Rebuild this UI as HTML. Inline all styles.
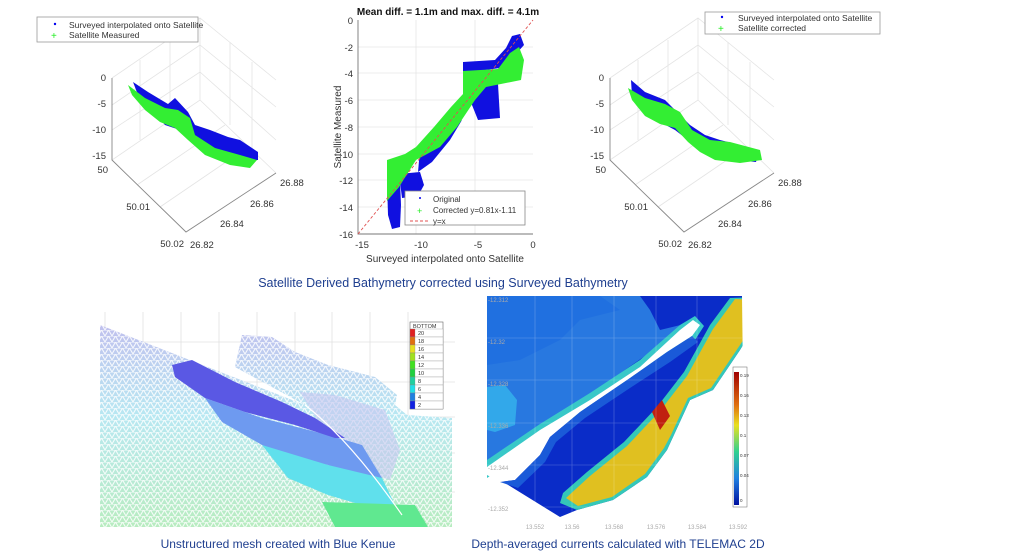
<!DOCTYPE html>
<html><head><meta charset="utf-8">
<style>
body{margin:0;background:#fff;width:1024px;height:554px;overflow:hidden;font-family:"Liberation Sans",sans-serif;}
svg{position:absolute;left:0;top:0}
</style></head><body>
<svg width="1024" height="554" viewBox="0 0 1024 554" font-family="Liberation Sans, sans-serif">
<defs>
<g id="box3d">
  <g stroke="#e4e4e4" stroke-width="0.8" fill="none">
    <path d="M112,78 L200,18 L276,80 M200,18 L200,100 M112,160 L200,100 L276,173 M140,60 L140,140 M170,40 L170,120 M230,42 L230,125 M252,62 L252,150 M112,105 L200,45 L276,107 M112,130 L200,72 L276,140 M137,185 L225,125 M160,207 L248,147"/>
  </g>
  <g stroke="#888" stroke-width="0.9" fill="none">
    <path d="M112,78 L112,160 L186,232 L276,173"/>
  </g>
  <g font-size="9.5" fill="#333">
    <text x="106" y="81" text-anchor="end">0</text>
    <text x="106" y="107" text-anchor="end">-5</text>
    <text x="106" y="133" text-anchor="end">-10</text>
    <text x="106" y="159" text-anchor="end">-15</text>
    <text x="108" y="173" text-anchor="end">50</text>
    <text x="150" y="210" text-anchor="end">50.01</text>
    <text x="184" y="247" text-anchor="end">50.02</text>
    <text x="190" y="248">26.82</text>
    <text x="220" y="227">26.84</text>
    <text x="250" y="207">26.86</text>
    <text x="280" y="186">26.88</text>
  </g>
</g>
<linearGradient id="mg" x1="0" y1="0" x2="0" y2="1">
<stop offset="0" stop-color="#c0c0ee"/><stop offset="0.45" stop-color="#b8e8f2"/><stop offset="1" stop-color="#b8ecc0"/></linearGradient>
<pattern id="tri" width="7" height="6" patternUnits="userSpaceOnUse"><path d="M0,6 L3.5,0 L7,6 M0,0 L7,0" stroke="#fff" stroke-width="1.1" fill="none" opacity="0.85"/></pattern>
<linearGradient id="cb" x1="0" y1="0" x2="0" y2="1"><stop offset="0" stop-color="#a00000"/><stop offset="0.25" stop-color="#e07010"/><stop offset="0.4" stop-color="#e8e020"/><stop offset="0.6" stop-color="#30d090"/><stop offset="0.8" stop-color="#2080e0"/><stop offset="1" stop-color="#0010a0"/></linearGradient>
</defs>

<!-- left 3D -->
<use href="#box3d"/>
<rect x="37" y="17" width="161" height="25" fill="#fff" stroke="#999" stroke-width="0.8"/>
<circle cx="55" cy="24" r="1.2" fill="#0000ee"/>
<text x="69" y="28" font-size="8.5" fill="#333">Surveyed interpolated onto Satellite</text>
<text x="51" y="39" font-size="10" fill="#2e2">+</text>
<text x="69" y="38" font-size="8.5" fill="#333">Satellite Measured</text>
<path d="M133,82 L148,92 L168,104 L175,98 L188,112 L195,125 L210,130 L228,137 L240,140 L258,152 L258,160 L240,160 L218,150 L200,140 L180,130 L165,125 L150,108 L138,95 Z" fill="#1010e0"/>
<path d="M128,85 L145,98 L165,108 L178,110 L190,118 L195,135 L215,148 L240,155 L257,160 L250,168 L230,165 L205,155 L188,140 L175,128 L160,122 L145,110 L132,95 Z" fill="#33ee33"/>

<!-- right 3D -->
<use href="#box3d" transform="translate(498,0)"/>
<rect x="705" y="12" width="175" height="22" fill="#fff" stroke="#999" stroke-width="0.8"/>
<circle cx="722" cy="17" r="1.2" fill="#0000ee"/>
<text x="738" y="21" font-size="8.5" fill="#333">Surveyed interpolated onto Satellite</text>
<text x="718" y="32" font-size="10" fill="#2e2">+</text>
<text x="738" y="31" font-size="8.5" fill="#333">Satellite corrected</text>
<path d="M631,80 L645,92 L665,100 L675,110 L690,125 L705,135 L720,140 L740,145 L758,155 L756,162 L735,160 L715,157 L698,150 L688,140 L675,130 L660,122 L645,112 L632,96 Z" fill="#1010e0"/>
<path d="M628,88 L645,98 L665,104 L680,112 L692,130 L710,140 L730,142 L760,150 L762,160 L740,163 L715,160 L700,152 L688,142 L675,128 L660,124 L645,116 L632,100 Z" fill="#33ee33"/>

<!-- middle scatter -->
<g stroke="#e6e6e6" stroke-width="0.8">
  <line x1="416" y1="20" x2="416" y2="234"/><line x1="475" y1="20" x2="475" y2="234"/>
  <line x1="358" y1="47" x2="533" y2="47"/><line x1="358" y1="73" x2="533" y2="73"/><line x1="358" y1="100" x2="533" y2="100"/><line x1="358" y1="127" x2="533" y2="127"/><line x1="358" y1="154" x2="533" y2="154"/><line x1="358" y1="180" x2="533" y2="180"/><line x1="358" y1="207" x2="533" y2="207"/>
</g>
<path d="M358,20 L358,234 L533,234" stroke="#777" stroke-width="0.9" fill="none"/>
<path d="M387,182 L400,180 L401,205 L400,227 L392,229 L388,215 Z" fill="#1010e0"/>
<path d="M399,174 L420,172 L424,185 L418,196 L402,198 Z" fill="#1010e0"/>
<path d="M463,62 L495,60 L506,48 L512,36 L520,34 L524,45 L515,55 L500,68 L463,73 Z" fill="#1010e0"/>
<path d="M474,86 L498,84 L500,118 L478,120 L470,100 Z" fill="#1010e0"/>
<path d="M420,150 L440,140 L455,125 L462,120 L450,140 L432,162 L418,172 Z" fill="#1010e0"/>
<path d="M387,160 L405,154 L416,147 L434,127 L451,107 L463,94 L463,71 L498,69 L510,53 L519,47 L524,60 L521,80 L486,87 L475,100 L457,127 L440,147 L416,160 L399,187 L387,201 Z" fill="#33ee33"/>
<line x1="358" y1="234" x2="533" y2="20" stroke="#e05050" stroke-width="0.9" stroke-dasharray="3,2"/>
<rect x="405" y="191" width="120" height="34" fill="#fff" stroke="#888" stroke-width="0.8"/>
<circle cx="420" cy="198" r="1" fill="#00e"/>
<text x="433" y="202" font-size="8" fill="#333">Original</text>
<text x="417" y="214" font-size="9" fill="#2e2">+</text>
<text x="433" y="213" font-size="8" fill="#333">Corrected y=0.81x-1.11</text>
<line x1="410" y1="221" x2="428" y2="221" stroke="#e05050" stroke-dasharray="3,2"/>
<text x="433" y="224" font-size="8" fill="#333">y=x</text>
<g font-size="9.5" fill="#333" text-anchor="end">
<text x="353" y="24">0</text><text x="353" y="51">-2</text><text x="353" y="77">-4</text><text x="353" y="104">-6</text><text x="353" y="131">-8</text><text x="353" y="158">-10</text><text x="353" y="184">-12</text><text x="353" y="211">-14</text><text x="353" y="238">-16</text>
</g>
<g font-size="9.5" fill="#333" text-anchor="middle">
<text x="362" y="248">-15</text><text x="421" y="248">-10</text><text x="478" y="248">-5</text><text x="533" y="248">0</text>
</g>
<text x="445" y="262" font-size="10" fill="#333" text-anchor="middle">Surveyed interpolated onto Satellite</text>
<text transform="translate(341,127) rotate(-90)" font-size="10" fill="#333" text-anchor="middle">Satellite Measured</text>
<text x="448" y="15" font-size="10" font-weight="bold" fill="#111" text-anchor="middle">Mean diff. = 1.1m and max. diff. = 4.1m</text>

<text x="443" y="287" font-size="12.5" fill="#1f3f8f" text-anchor="middle">Satellite Derived Bathymetry corrected using Surveyed Bathymetry</text>

<!-- bottom left mesh -->
<g stroke="#e2e2e2" stroke-width="0.8">
<path d="M105,312 V527 M143,312 V527 M181,312 V527 M219,312 V527 M257,312 V527 M295,312 V527 M332,312 V527 M370,312 V527 M408,312 V527 M100,342 H455 M100,382 H455 M100,417 H455 M100,453 H455 M100,492 H455"/>
</g>
<path d="M100,325 L305,405 L235,367 L242,335 L272,337 L295,352 L328,365 L375,377 L397,395 L395,405 L407,415 L452,418 L452,527 L100,527 Z" fill="url(#mg)"/>
<path d="M100,325 L305,405 L235,367 L242,335 L272,337 L295,352 L328,365 L375,377 L397,395 L395,405 L407,415 L452,418 L452,527 L100,527 Z" fill="url(#tri)"/>
<path d="M300,392 L335,395 L385,410 L400,450 L390,480 L360,470 L330,440 Z" fill="#c6c6f0" opacity="0.6"/>
<path d="M205,398 L262,418 L328,435 L362,445 L382,478 L362,478 L328,465 L295,458 L262,445 L222,422 Z" fill="#6e9af0"/>
<path d="M262,445 L328,465 L382,478 L395,505 L362,505 L328,495 L288,478 Z" fill="#60e0ec"/>
<path d="M322,502 L415,505 L428,527 L335,527 Z" fill="#60e890"/>
<path d="M172,365 L192,360 L235,382 L282,402 L315,418 L345,438 L335,438 L295,425 L245,412 L205,398 L175,377 Z" fill="#5a58e4"/>
<path d="M305,405 Q350,440 402,515" stroke="#fff" stroke-width="1.2" fill="none"/>
<rect x="410" y="322" width="33" height="87" fill="#fff" stroke="#666" stroke-width="0.6"/>
<text x="413" y="328" font-size="5.5" fill="#333">BOTTOM</text>
<g stroke="#888" stroke-width="0.3">
<rect x="410" y="329" width="33" height="8" fill="#fff"/><rect x="410" y="329" width="5" height="8" fill="#e02020"/>
<rect x="410" y="337" width="33" height="8" fill="#fff"/><rect x="410" y="337" width="5" height="8" fill="#e07010"/>
<rect x="410" y="345" width="33" height="8" fill="#fff"/><rect x="410" y="345" width="5" height="8" fill="#e8e020"/>
<rect x="410" y="353" width="33" height="8" fill="#fff"/><rect x="410" y="353" width="5" height="8" fill="#a0e020"/>
<rect x="410" y="361" width="33" height="8" fill="#fff"/><rect x="410" y="361" width="5" height="8" fill="#40e020"/>
<rect x="410" y="369" width="33" height="8" fill="#fff"/><rect x="410" y="369" width="5" height="8" fill="#20d040"/>
<rect x="410" y="377" width="33" height="8" fill="#fff"/><rect x="410" y="377" width="5" height="8" fill="#20d0a0"/>
<rect x="410" y="385" width="33" height="8" fill="#fff"/><rect x="410" y="385" width="5" height="8" fill="#20e0e8"/>
<rect x="410" y="393" width="33" height="8" fill="#fff"/><rect x="410" y="393" width="5" height="8" fill="#2080e0"/>
<rect x="410" y="401" width="33" height="8" fill="#fff"/><rect x="410" y="401" width="5" height="8" fill="#1020e0"/>
</g>
<g font-size="5.5" fill="#333">
<text x="418" y="335">20</text><text x="418" y="343">18</text><text x="418" y="351">16</text><text x="418" y="359">14</text><text x="418" y="367">12</text><text x="418" y="375">10</text><text x="418" y="383">8</text><text x="418" y="391">6</text><text x="418" y="399">4</text><text x="418" y="407">2</text>
</g>
<text x="278" y="548" font-size="12" fill="#1f3f8f" text-anchor="middle">Unstructured mesh created with Blue Kenue</text>

<!-- bottom right currents -->
<path d="M487,296 L760,296 L760,317 L740,350 L713,390 L690,400 L673,437 L667,450 L647,477 L613,500 L577,510 L560,517 L500,480 L487,470 Z" fill="#0a2cc8"/>
<path d="M487,296 L680,296 L693,322 L487,467 Z" fill="#2878e0"/>
<path d="M487,296 L600,296 L620,310 L580,320 L560,340 L520,360 L487,365 Z" fill="#2070e0"/>
<path d="M487,387 L505,385 L517,400 L515,425 L495,432 L487,430 Z" fill="#32a8ea"/>
<path d="M640,296 L700,296 L700,310 L693,322 L660,330 L650,310 Z" fill="#0a2cc8"/>
<path d="M487,460 L540,424 L590,393 L640,360 L680,325 L695,316 L704,326 L695,340 L640,372 L590,405 L545,440 L487,478 Z" fill="#38c8c8"/>
<path d="M487,467 L540,430 L590,400 L640,367 L680,330 L693,320 L700,325 L692,336 L667,352 L630,378 L580,412 L550,437 L540,455 L515,480 L500,482 L487,475 Z" fill="#fff"/>
<path d="M500,482 L515,480 L540,455 L550,437 L580,412 L630,378 L667,352 L692,336 L698,342 L670,362 L630,388 L585,418 L556,442 L545,462 L518,488 Z" fill="#1a5ad8"/>
<path d="M760,297 L760,317 L740,350 L713,390 L690,400 L673,437 L667,450 L647,477 L613,500 L577,510 L560,503 L563,493 L587,472 L624,442 L657,407 L684,372 L710,325 L730,298 Z" fill="#34c8b8"/>
<path d="M760,300 L760,315 L738,348 L711,388 L688,398 L671,435 L664,448 L645,474 L612,497 L578,506 L566,498 L590,476 L627,446 L660,411 L687,376 L713,329 L735,299 Z" fill="#e0c020"/>
<path d="M652,412 L662,400 L670,416 L660,430 Z" fill="#c02010"/>
<path d="M742,296 L770,296 L770,540 L745,540 Z" fill="#fff"/>
<g stroke="#ffffff" stroke-opacity="0.3" stroke-width="0.6">
<path d="M487,338 H742 M487,380 H742 M487,423 H742 M487,465 H742 M487,507 H742 M535,296 V515 M572,296 V515 M614,296 V515 M656,296 V515 M697,296 V515"/>
</g>
<g font-size="6" fill="#aaa">
<text x="488" y="302">-12.312</text><text x="488" y="344">-12.32</text><text x="488" y="386">-12.328</text><text x="488" y="428">-12.336</text><text x="488" y="470">-12.344</text><text x="488" y="511">-12.352</text>
</g>
<rect x="733" y="367" width="14" height="140" fill="#fff" stroke="#666" stroke-width="0.5"/>
<rect x="734" y="372" width="5" height="133" fill="url(#cb)"/>
<g font-size="4.5" fill="#333">
<text x="740" y="377">0.19</text><text x="740" y="397">0.16</text><text x="740" y="417">0.13</text><text x="740" y="437">0.1</text><text x="740" y="457">0.07</text><text x="740" y="477">0.04</text><text x="740" y="502">0</text>
</g>
<g font-size="6" fill="#aaa" text-anchor="middle">
<text x="535" y="529">13.552</text><text x="572" y="529">13.56</text><text x="614" y="529">13.568</text><text x="656" y="529">13.576</text><text x="697" y="529">13.584</text><text x="738" y="529">13.592</text>
</g>
<text x="618" y="548" font-size="12" fill="#1f3f8f" text-anchor="middle">Depth-averaged currents calculated with TELEMAC 2D</text>
</svg>
</body></html>
